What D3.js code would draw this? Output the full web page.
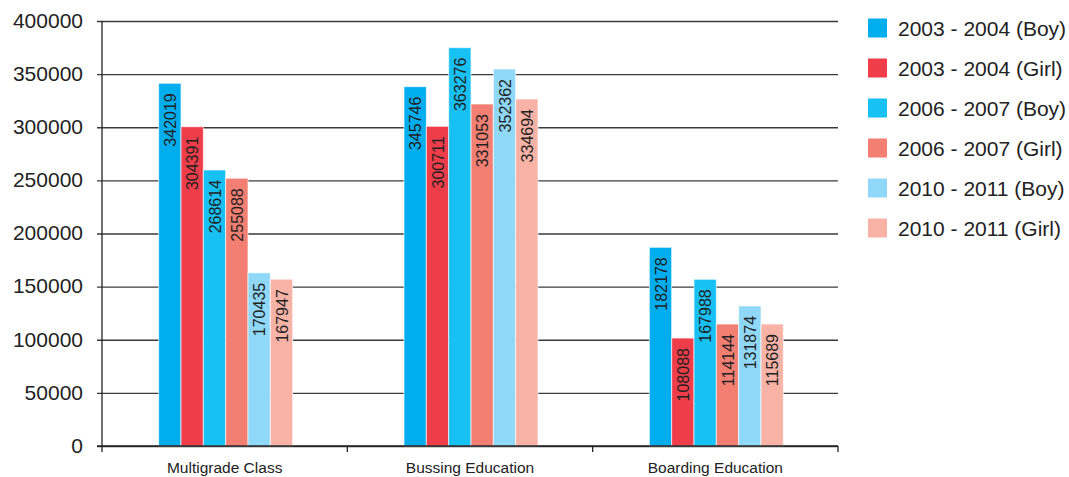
<!DOCTYPE html>
<html>
<head>
<meta charset="utf-8">
<script src="https://cdn.jsdelivr.net/npm/d3@7/dist/d3.min.js"></script>
<style>
  html, body { margin: 0; padding: 0; background: #fff; }
  svg { display: block; font-family: "Liberation Sans", Arial, sans-serif; }
</style>
</head>
<body>
<svg id="chart" width="1069" height="477"></svg>
<script>
// ---- data ----
const categories = ["Multigrade Class", "Bussing Education", "Boarding Education"];
const seriesNames = ["2003 - 2004 (Boy)", "2003 - 2004 (Girl)", "2006 - 2007 (Boy)",
                     "2006 - 2007 (Girl)", "2010 - 2011 (Boy)", "2010 - 2011 (Girl)"];
// printed value labels, one array per category (series order)
const multigradeLabels = [342019, 304391, 268614, 255088, 170435, 167947];
const bussingLabels    = [345746, 300711, 363276, 331053, 352362, 334694];
const boardingLabels   = [182178, 108088, 167988, 114144, 131874, 115689];
// bar heights as drawn in the picture
const multigradeHeights = [341400, 300500, 259800, 252000, 163000, 157000];
const bussingHeights    = [338200, 300900, 374900, 321900, 354800, 326600];
const boardingHeights   = [187000, 101600, 156900, 114800, 131800, 114800];
const yTicks = [0, 50000, 100000, 150000, 200000, 250000, 300000, 350000, 400000];
const colors = ["#00aeef", "#ef3e4a", "#17c1f4", "#f37f73", "#8fd8f8", "#f9b2a6"];

const labelsByCat = [multigradeLabels, bussingLabels, boardingLabels];
const heightsByCat = [multigradeHeights, bussingHeights, boardingHeights];

// ---- layout ----
const svg = d3.select("#chart");
const plotL = 102, plotR = 838, plotT = 21, plotB = 446;

const y = d3.scaleLinear().domain([0, 400000]).range([plotB, plotT]);
const x0 = d3.scaleBand().domain(categories).range([plotL, plotR]).padding(0);
const groupW = 134;
const x1 = d3.scaleBand().domain(seriesNames).range([0, groupW]).padding(0);
const groupOffset = (x0.bandwidth() - groupW) / 2 + 1;

// gridlines + y labels
const yAxis = d3.axisLeft(y).tickValues(yTicks).tickFormat(d3.format("d"))
  .tickSize(-(plotR - plotL)).tickSizeOuter(0).tickPadding(19);
const gy = svg.append("g").attr("transform", `translate(${plotL},0)`).call(yAxis);
gy.select(".domain").remove();
gy.selectAll(".tick line").attr("stroke", "#3a3a3a").attr("stroke-width", 1.3).attr("x1", -5);
gy.selectAll(".tick text").attr("fill", "#222").attr("font-size", "21px")
  .attr("font-family", "'Liberation Sans', Arial, sans-serif").attr("dy", "0.3em");

// vertical axis line
svg.append("line").attr("x1", plotL).attr("x2", plotL).attr("y1", plotT).attr("y2", plotB)
  .attr("stroke", "#222").attr("stroke-width", 1.3);

// bars
const groups = svg.append("g").selectAll("g").data(categories).join("g")
  .attr("transform", (d) => `translate(${x0(d) + groupOffset},0)`);

groups.each(function(cat, ci) {
  const g = d3.select(this);
  const rows = seriesNames.map((s, si) => ({ s, si, h: heightsByCat[ci][si], label: labelsByCat[ci][si] }));
  g.selectAll("rect").data(rows).join("rect")
    .attr("x", (d) => x1(d.s))
    .attr("y", (d) => y(d.h))
    .attr("width", x1.bandwidth())
    .attr("height", (d) => plotB - y(d.h))
    .attr("fill", (d) => colors[d.si])
    .attr("stroke", "rgba(255,255,255,0.65)")
    .attr("stroke-width", 1);
  g.selectAll("text").data(rows).join("text")
    .attr("transform", (d) => `translate(${x1(d.s) + x1.bandwidth() / 2 + 0.5},${y(d.h) + 10}) rotate(-90)`)
    .attr("text-anchor", "end")
    .attr("dy", "0.35em")
    .attr("font-size", "16px")
    .attr("fill", "#222")
    .text((d) => d.label);
});

// x axis
const xAxis = d3.axisBottom(x0).tickSize(0).tickPadding(16);
const gx = svg.append("g").attr("transform", `translate(0,${plotB})`).call(xAxis);
gx.select(".domain").attr("stroke", "#222").attr("stroke-width", 1.5).attr("d", `M${plotL - 5},0H${plotR}`);
gx.selectAll(".tick text").attr("fill", "#222").attr("font-size", "15.5px")
  .attr("font-family", "'Liberation Sans', Arial, sans-serif");
// boundary ticks between categories
const bounds = [plotL, ...categories.map((c) => x0(c) + x0.bandwidth())];
gx.selectAll(".bound").data(bounds).join("line").attr("class", "bound")
  .attr("x1", (d) => d).attr("x2", (d) => d).attr("y1", 0).attr("y2", 6)
  .attr("stroke", "#222").attr("stroke-width", 1.3);

// legend
const legend = svg.append("g").selectAll("g").data(seriesNames).join("g")
  .attr("transform", (d, i) => `translate(868,${28 + i * 40})`);
legend.append("rect").attr("x", 0).attr("y", -9.5).attr("width", 19).attr("height", 19)
  .attr("fill", (d, i) => colors[i]);
legend.append("text").attr("x", 30).attr("dy", "0.36em").attr("font-size", "21px")
  .attr("fill", "#222").text((d) => d);
</script>
</body>
</html>
